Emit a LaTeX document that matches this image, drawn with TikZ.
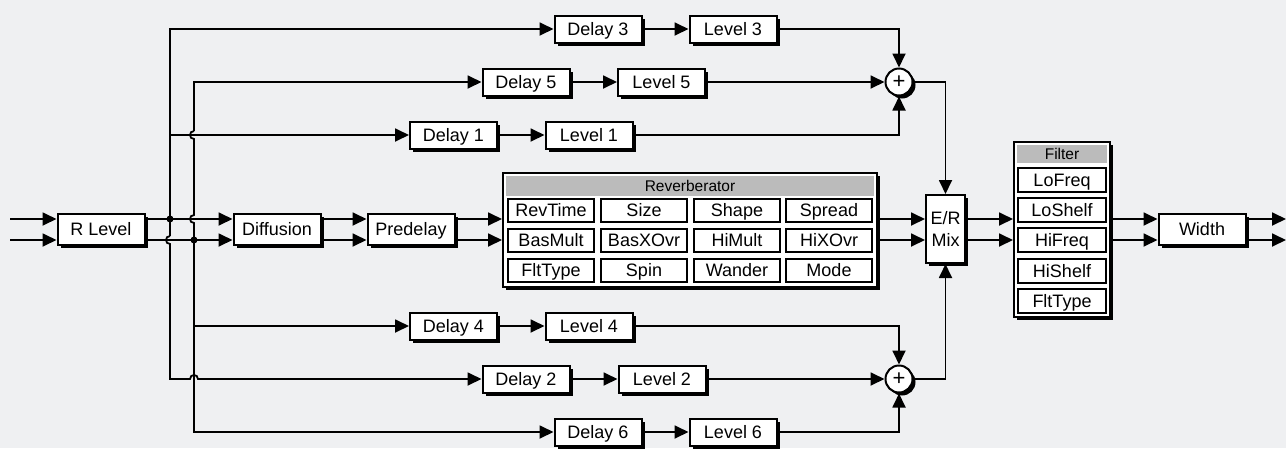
\documentclass[tikz,border=0pt]{standalone}
\usepackage{fontspec}
\setmainfont{Liberation Sans}
\usetikzlibrary{arrows.meta,shadows,calc}
\definecolor{bg}{RGB}{239,240,242}
\definecolor{hdr}{RGB}{187,187,187}

\begin{document}
\begin{tikzpicture}[x=1pt,y=-1pt,
  wire/.style={line width=1.8pt},
  arr/.style={wire,-{Triangle[length=14pt,width=13pt]}},
  shadowed/.style={drop shadow={shadow xshift=3pt,shadow yshift=-3pt,fill=black,opacity=1}},
  lbl/.style={font=\fontsize{18}{21}\selectfont,text height=12.9pt,text depth=0pt},
  blk/.style={draw,line width=2pt,fill=white,inner sep=0pt,shadowed},
  mainbox/.style={blk,lbl,minimum width=87pt,minimum height=31pt},
  tapbox/.style={blk,lbl,minimum width=87pt,minimum height=27pt},
  panel/.style={blk},
  hdrbar/.style={fill=hdr,inner sep=0pt,font=\fontsize{15.5}{18}\selectfont,text height=11.1pt,text depth=0pt},
  rcell/.style={draw,line width=2pt,fill=white,inner sep=0pt,lbl,minimum width=86pt,minimum height=23pt},
  fcell/.style={draw,line width=2pt,fill=white,inner sep=0pt,lbl,minimum width=88pt,minimum height=24pt},
  sumnode/.style={circle,draw,line width=2pt,fill=white,inner sep=0pt,minimum size=27pt,
    font=\fontsize{22}{22}\selectfont,shadowed},
  junction/.style={circle,fill=black,inner sep=0pt,minimum size=7pt}
]
% canvas
\useasboundingbox (0,0) rectangle (1286,448);
\fill[bg] (0,0) rectangle (1286,448);

% channel rows
\coordinate (ya) at (0,219);
\coordinate (yb) at (0,240);
\coordinate (inA) at (10,219);
\coordinate (inB) at (10,240);
\coordinate (outA) at (1286,219);
\coordinate (outB) at (1286,240);

% main chain
\node[mainbox] (rlev) at (101,229.5) {R Level};
\node[mainbox] (diff) at (277,229.5) {Diffusion};
\node[mainbox] (pre)  at (411,229.5) {Predelay};
\node[mainbox] (wid)  at (1202,229.5) {Width};

% reverberator panel
\node[panel,minimum width=374pt,minimum height=114pt] (rev) at (690,230) {};
\node[hdrbar,minimum width=368pt,minimum height=20pt] (revhdr) at (690,186) {Reverberator};
\node[rcell] (c11) at (551,210.5) {RevTime};
\node[rcell] (c12) at (644,210.5) {Size};
\node[rcell] (c13) at (737,210.5) {Shape};
\node[rcell] (c14) at (829,210.5) {Spread};
\node[rcell] (c21) at (551,240.5) {BasMult};
\node[rcell] (c22) at (644,240.5) {BasXOvr};
\node[rcell] (c23) at (737,240.5) {HiMult};
\node[rcell] (c24) at (829,240.5) {HiXOvr};
\node[rcell] (c31) at (551,270) {FltType};
\node[rcell] (c32) at (644,270) {Spin};
\node[rcell] (c33) at (737,270) {Wander};
\node[rcell] (c34) at (829,270) {Mode};

% early/reverb mixer
\node[blk,minimum width=39pt,minimum height=68pt,align=center,
      font=\fontsize{18}{22.5}\selectfont] (er) at (945.5,229) {E/R\\Mix};

% filter panel
\node[panel,minimum width=96pt,minimum height=175pt] (flt) at (1062,229.5) {};
\node[hdrbar,minimum width=90pt,minimum height=18pt] (flthdr) at (1062,154) {Filter};
\node[fcell] (f1) at (1062,180) {LoFreq};
\node[fcell] (f2) at (1062,210) {LoShelf};
\node[fcell] (f3) at (1062,240) {HiFreq};
\node[fcell] (f4) at (1062,271) {HiShelf};
\node[fcell] (f5) at (1062,301) {FltType};

% early reflection taps
\node[tapbox] (d3) at (598,29)  {Delay 3};
\node[tapbox] (l3) at (733,29)  {Level 3};
\node[tapbox] (d5) at (526,82)  {Delay 5};
\node[tapbox] (l5) at (661.5,82) {Level 5};
\node[tapbox] (d1) at (453.5,135) {Delay 1};
\node[tapbox] (l1) at (589,135) {Level 1};
\node[tapbox] (d4) at (453.5,326) {Delay 4};
\node[tapbox] (l4) at (589,326) {Level 4};
\node[tapbox] (d2) at (526,379) {Delay 2};
\node[tapbox] (l2) at (662,379) {Level 2};
\node[tapbox] (d6) at (598,432) {Delay 6};
\node[tapbox] (l6) at (733,432) {Level 6};

% summing junctions
\node[sumnode] (s1) at (899,82) {+};
\node[sumnode] (s2) at (899,379) {+};

% stereo signal path
\foreach \r in {ya,yb}{
  \draw[arr] (inA |- \r) -- (rlev.west |- \r);
  \draw[arr] (rlev.east |- \r) -- (diff.west |- \r);
  \draw[arr] (diff.east |- \r) -- (pre.west |- \r);
  \draw[arr] (pre.east |- \r) -- (rev.west |- \r);
  \draw[arr] (rev.east |- \r) -- (er.west |- \r);
  \draw[arr] (er.east |- \r) -- (flt.west |- \r);
  \draw[arr] (flt.east |- \r) -- (wid.west |- \r);
  \draw[arr] (wid.east |- \r) -- (outA |- \r);
}

% left tap bus (x = 170), fed from the upper channel
\node[junction] (jA) at (170,219) {};
\draw[arr] (170,236) -- (170,29) -- (d3.west);
\draw[arr] (170,236) .. controls (164.7,236) and (164.7,244) .. (170,244)
  -- (170,379) -- (190,379) .. controls (190,373.7) and (198,373.7) .. (198,379) -- (d2.west);
\draw[arr] (170,135) -- (d1.west);

% right tap bus (x = 194), fed from the lower channel
\node[junction] (jB) at (194,240) {};
\draw[arr] (194,131) -- (194,82) -- (d5.west);
\draw[wire] (194,131) .. controls (188.7,131) and (188.7,139) .. (194,139)
  -- (194,215) .. controls (188.7,215) and (188.7,223) .. (194,223) -- (194,240);
\draw[arr] (194,240) -- (194,432) -- (d6.west);
\draw[arr] (194,326) -- (d4.west);

% delay to level
\foreach \d/\l in {d3/l3,d5/l5,d1/l1,d4/l4,d2/l2,d6/l6}{
  \draw[arr] (\d.east) -- (\l.west);
}

% levels into the summers
\draw[arr] (l3.east) -- (l3.east -| s1.north) -- (s1.north);
\draw[arr] (l5.east) -- (s1.west);
\draw[arr] (l1.east) -- (l1.east -| s1.south) -- (s1.south);
\draw[arr] (l4.east) -- (l4.east -| s2.north) -- (s2.north);
\draw[arr] (l2.east) -- (s2.west);
\draw[arr] (l6.east) -- (l6.east -| s2.south) -- (s2.south);

% summers into the mixer
\draw[arr] (s1.east) -- (s1.east -| er.north) -- (er.north);
\draw[arr] (s2.east) -- (s2.east -| er.south) -- (er.south);
\end{tikzpicture}
\end{document}
